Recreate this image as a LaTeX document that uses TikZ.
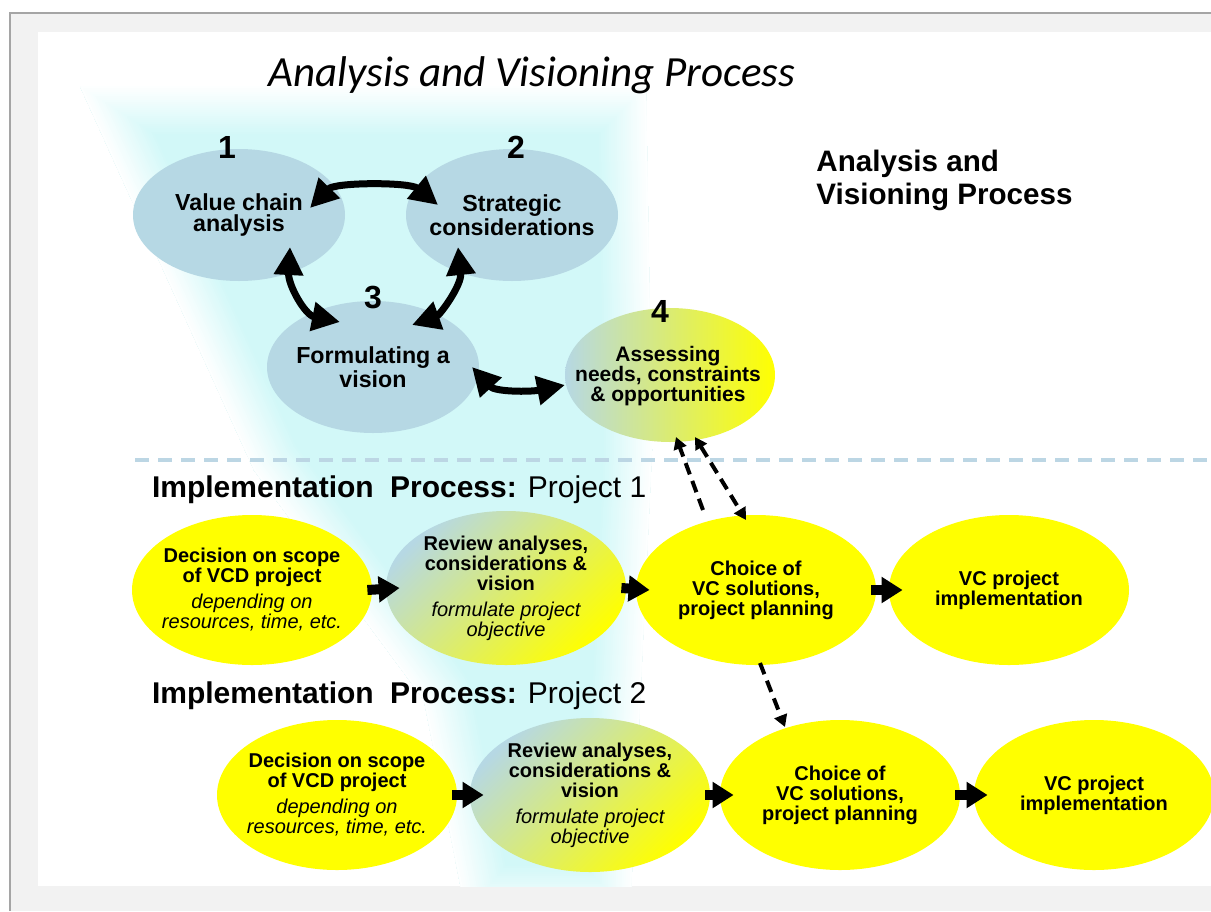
\documentclass[tikz,border=0pt]{standalone}
\usepackage{fontspec}
\setmainfont{Liberation Sans}
\newfontfamily\titlefont{Carlito}
\usetikzlibrary{arrows.meta,calc,shapes.geometric}

\definecolor{ellblue}{RGB}{182,216,228}
\definecolor{glowcyan}{RGB}{210,248,248}
\definecolor{vcyellow}{RGB}{255,255,0}
\definecolor{framegrey}{RGB}{242,242,242}
\definecolor{frameline}{RGB}{165,165,165}
\definecolor{splitblue}{RGB}{188,214,228}

% outline of the glow behind the analysis part
\newcommand{\glowoutline}{(80,86) -- (646,86) -- (652,450) -- (630,914) -- (466,914) -- (424,700) -- (254,470) -- cycle}

\tikzset{
  topell/.style={ellipse, fill=ellblue, minimum width=106pt, minimum height=66pt, inner sep=0pt},
  topmix/.style={ellipse, left color=ellblue, right color=vcyellow, minimum width=105pt, minimum height=67pt, inner sep=0pt},
  toptext/.style={align=center, font=\bfseries\fontsize{11.6}{10.8}\selectfont},
  numtext/.style={anchor=base, font=\bfseries\fontsize{16}{16}\selectfont},
  rowell/.style={ellipse, fill=vcyellow, minimum width=120pt, minimum height=75pt, inner sep=0pt},
  rowmix/.style={ellipse, top color=ellblue, bottom color=vcyellow, shading angle=45, minimum width=120pt, minimum height=77pt, inner sep=0pt},
  rowtext/.style={align=center, font=\bfseries\fontsize{10}{10}\selectfont},
  rowlabel/.style={anchor=base west, font=\fontsize{15}{15}\selectfont},
  cyclearrow/.style={{Triangle[length=14pt,width=14pt]}-{Triangle[length=14pt,width=14pt]}, line width=3.5pt},
  blockarrow/.style={-{Triangle[length=10.5pt,width=12.5pt]}, line width=5pt},
  linkarrow/.style={-{Triangle[length=6pt,width=6.5pt]}, line width=2pt, dash pattern=on 6pt off 3.5pt},
  linkboth/.style={{Triangle[length=6pt,width=6.5pt]}-{Triangle[length=6pt,width=6.5pt]}, line width=2pt, dash pattern=on 6pt off 3.5pt}
}

\begin{document}
\begin{tikzpicture}[x=0.5pt, y=-0.5pt]
  \useasboundingbox (0,0) rectangle (1211,911);

  % frame
  \fill[white] (0,0) rectangle (1211,911);
  \fill[framegrey] (10,13) rectangle (1211,911);
  \draw[frameline, line width=1pt] (10,911) -- (10,13) -- (1211,13);
  \fill[white] (38,32) rectangle (1211,886);

  % glow, soft edge faded inwards
  \begin{scope}
    \clip (38,32) rectangle (1211,886);
    \clip \glowoutline;
    \fill[glowcyan] \glowoutline;
    \foreach \i [evaluate=\i as \w using int(50-2*\i), evaluate=\i as \m using int(100-4*\i)] in {0,...,24}
      \draw[glowcyan!\m!white, line width=\w pt, line join=round] \glowoutline;
  \end{scope}

  % titles
  \node[anchor=base west, inner sep=0pt, font=\titlefont\itshape\fontsize{21.5}{21.5}\selectfont] (title) at (268,86) {Analysis and Visioning Process};
  \node[anchor=north west, inner sep=0pt, align=left, font=\bfseries\fontsize{14.8}{16.5}\selectfont] (sidetitle) at (816,150) {Analysis and\\Visioning Process};

  % split line
  \draw[splitblue, line width=2pt, dash pattern=on 7pt off 4.5pt] (135,460) -- (1211,460);

  % --- analysis and visioning ---
  \node[topell] (e1) at (239,215) {};
  \node[topell] (e2) at (512,215) {};
  \node[topell] (e3) at (373,367) {};
  \node[topmix] (e4) at (670,375) {};
  \node[toptext] (e1t) at (e1) {Value chain\\analysis};
  \node[toptext] (e2t) at (e2) {Strategic\\considerations};
  \node[toptext] (e3t) at (e3) {Formulating a\\vision};
  \node[toptext, font=\bfseries\fontsize{10.5}{10}\selectfont] (e4t) at (668,376) {Assessing\\needs, constraints\\\& opportunities};
  \node[numtext] (n1) at (227,158) {1};
  \node[numtext] (n2) at (516,158) {2};
  \node[numtext] (n3) at (373,308) {3};
  \node[numtext] (n4) at (660,322) {4};

  \draw[cyclearrow] ($(e1)+(71,-7)$) .. controls ($(e1)+(96,-33)$) and ($(e2)+(-102,-33)$) .. ($(e2)+(-74,-10)$);
  \draw[cyclearrow] ($(e1)+(51,32)$) .. controls ($(e1)+(49,70)$) and ($(e3)+(-68,-52)$) .. ($(e3)+(-33,-45)$);
  \draw[cyclearrow] ($(e2)+(-54,32)$) .. controls ($(e2)+(-50,70)$) and ($(e3)+(67,-52)$) .. ($(e3)+(39,-42)$);
  \draw[cyclearrow] ($(e3)+(99,0)$) .. controls ($(e3)+(122,25)$) and ($(e4)+(-140,17)$) .. ($(e4)+(-105,10)$);

  % --- Implementation: project 1 ---
  \node[rowlabel] (p1) at (145,497) {\textbf{Implementation\hspace{4pt} Process:} Project 1};
  \node[rowell] (d1) at (252,590) {};
  \node[rowmix] (r1) at (506,588) {};
  \node[rowell] (c1) at (756,590) {};
  \node[rowell] (v1) at (1009,590) {};
  \node[rowtext] (d1t) at (d1) {Decision on scope\\of VCD project\\[3pt]{\mdseries\itshape depending on}\\{\mdseries\itshape resources, time, etc.}};
  \node[rowtext] (r1t) at (r1) {Review analyses,\\considerations \&\\vision\\[3pt]{\mdseries\itshape formulate project}\\{\mdseries\itshape objective}};
  \node[rowtext] (c1t) at (c1) {Choice of\\VC solutions,\\project planning};
  \node[rowtext] (v1t) at (v1) {VC project\\implementation};
  \draw[blockarrow] ([xshift=-2.5pt]d1.east) -- ([xshift=7pt]r1.west);
  \draw[blockarrow] ([xshift=-2.5pt]r1.east) -- ([xshift=7pt]c1.west);
  \draw[blockarrow] ([xshift=-2.5pt]c1.east) -- ([xshift=7pt]v1.west);

  % --- Implementation: project 2 ---
  \node[rowlabel] (p2) at (145,703) {\textbf{Implementation\hspace{4pt} Process:} Project 2};
  \node[rowell] (d2) at (337,795) {};
  \node[rowmix] (r2) at (590,795) {};
  \node[rowell] (c2) at (840,795) {};
  \node[rowell] (v2) at (1094,795) {};
  \node[rowtext] (d2t) at (d2) {Decision on scope\\of VCD project\\[3pt]{\mdseries\itshape depending on}\\{\mdseries\itshape resources, time, etc.}};
  \node[rowtext] (r2t) at (r2) {Review analyses,\\considerations \&\\vision\\[3pt]{\mdseries\itshape formulate project}\\{\mdseries\itshape objective}};
  \node[rowtext] (c2t) at (c2) {Choice of\\VC solutions,\\project planning};
  \node[rowtext] (v2t) at (v2) {VC project\\implementation};
  \draw[blockarrow] ([xshift=-2.5pt]d2.east) -- ([xshift=7pt]r2.west);
  \draw[blockarrow] ([xshift=-2.5pt]r2.east) -- ([xshift=7pt]c2.west);
  \draw[blockarrow] ([xshift=-2.5pt]c2.east) -- ([xshift=7pt]v2.west);

  % dashed links
  \draw[linkarrow] ($(c1)+(-53,-80)$) -- ($(e4)+(6,62)$);
  \draw[linkboth] ($(e4)+(25,62)$) -- ($(c1)+(-10,-70)$);
  \draw[linkarrow] ($(c1)+(4,73)$) -- ($(c2)+(-55,-68)$);
\end{tikzpicture}
\end{document}
